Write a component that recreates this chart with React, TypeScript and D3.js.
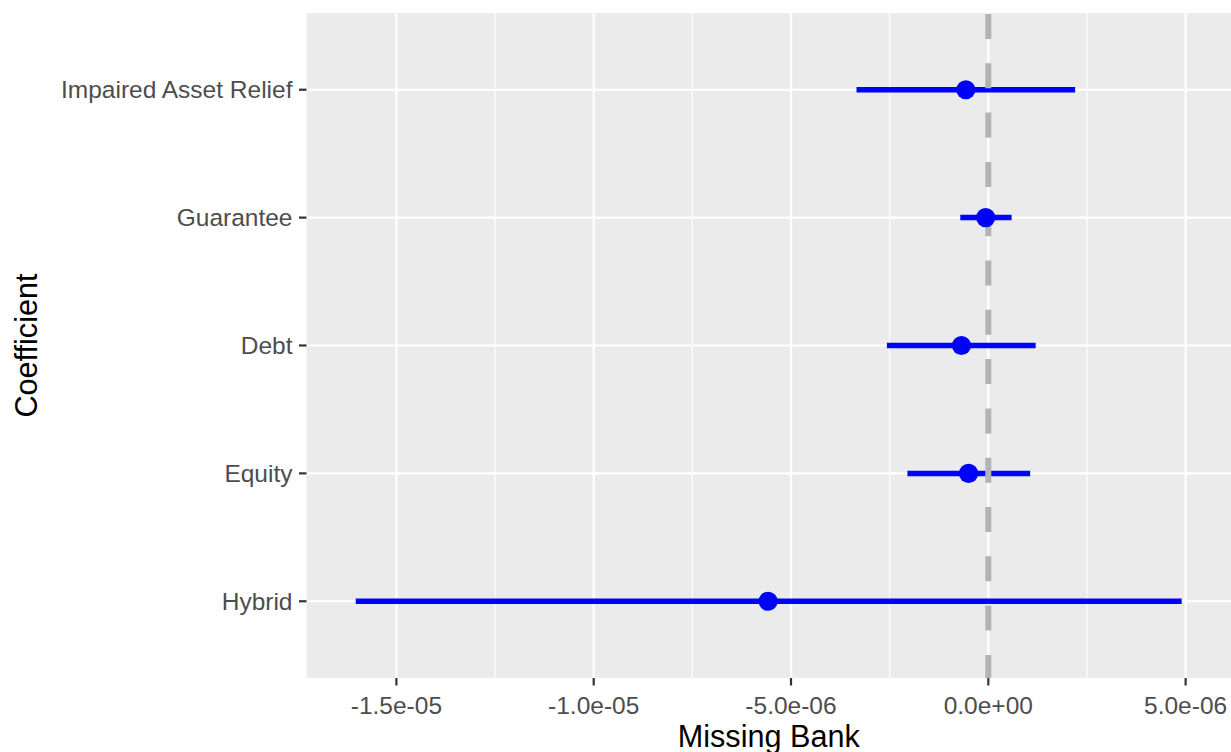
import React from "react";
import * as d3 from "d3";

const categories = ["Impaired Asset Relief", "Guarantee", "Debt", "Equity", "Hybrid"];
const estimates = [-5.7e-7, -6.6e-8, -6.8e-7, -5.0e-7, -5.58e-6];
const lowers = [-3.34e-6, -7.1e-7, -2.57e-6, -2.05e-6, -1.603e-5];
const uppers = [2.2e-6, 5.9e-7, 1.2e-6, 1.06e-6, 4.9e-6];
const majorTicks = [-1.5e-5, -1.0e-5, -5e-6, 0, 5e-6];
const tickLabels = ["-1.5e-05", "-1.0e-05", "-5.0e-06", "0.0e+00", "5.0e-06"];
const minorTicks = [-1.25e-5, -7.5e-6, -2.5e-6, 2.5e-6];
const xDomain = [-1.7278e-5, 6.15e-6];

const W = 1231;
const H = 752;
const panel = { left: 306.5, right: 1231, top: 13, bottom: 678 };
const font = "'Liberation Sans', Arial, Helvetica, sans-serif";

export default function App() {
  const x = d3.scaleLinear().domain(xDomain).range([panel.left, panel.right]);
  const y = d3
    .scalePoint<string>()
    .domain(categories)
    .range([panel.top, panel.bottom])
    .padding(0.6);

  return (
    <svg
      width={W}
      height={H}
      style={{ position: "absolute", left: 0, top: 0, display: "block" }}
      fontFamily={font}
    >
      <rect x={0} y={0} width={W} height={H} fill="#ffffff" />
      <rect
        x={panel.left}
        y={panel.top}
        width={panel.right - panel.left}
        height={panel.bottom - panel.top}
        fill="#EBEBEB"
      />
      {minorTicks.map((t) => (
        <line
          key={"mi" + t}
          x1={x(t)}
          x2={x(t)}
          y1={panel.top}
          y2={panel.bottom}
          stroke="#ffffff"
          strokeWidth={1.1}
        />
      ))}
      {majorTicks.map((t) => (
        <line
          key={"ma" + t}
          x1={x(t)}
          x2={x(t)}
          y1={panel.top}
          y2={panel.bottom}
          stroke="#ffffff"
          strokeWidth={2.2}
        />
      ))}
      {categories.map((c) => (
        <line
          key={"hg" + c}
          x1={panel.left}
          x2={panel.right}
          y1={y(c)!}
          y2={y(c)!}
          stroke="#ffffff"
          strokeWidth={2.2}
        />
      ))}
      {categories.map((c, i) => (
        <line
          key={"eb" + c}
          x1={x(lowers[i])}
          x2={x(uppers[i])}
          y1={y(c)!}
          y2={y(c)!}
          stroke="#0000FF"
          strokeWidth={5.5}
        />
      ))}
      <line
        x1={x(0)}
        x2={x(0)}
        y1={panel.top + 1}
        y2={panel.bottom}
        stroke="#B3B3B3"
        strokeWidth={6}
        strokeDasharray="25 24.3"
      />
      {categories.map((c, i) => (
        <circle key={"pt" + c} cx={x(estimates[i])} cy={y(c)!} r={9.6} fill="#0000FF" />
      ))}
      {/* x axis */}
      {majorTicks.map((t, i) => (
        <g key={"xt" + t}>
          <line
            x1={x(t)}
            x2={x(t)}
            y1={panel.bottom}
            y2={panel.bottom + 7.5}
            stroke="#333333"
            strokeWidth={2.2}
          />
          <text
            x={x(t)}
            y={714}
            textAnchor="middle"
            fontSize={24.5}
            fill="#4D4D4D"
          >
            {tickLabels[i]}
          </text>
        </g>
      ))}
      {/* y axis */}
      {categories.map((c) => (
        <g key={"yt" + c}>
          <line
            x1={panel.left - 7.5}
            x2={panel.left}
            y1={y(c)!}
            y2={y(c)!}
            stroke="#333333"
            strokeWidth={2.2}
          />
          <text
            x={292.5}
            y={y(c)!}
            dy="0.35em"
            textAnchor="end"
            fontSize={24.5}
            fill="#4D4D4D"
          >
            {c}
          </text>
        </g>
      ))}
      <text
        x={(panel.left + panel.right) / 2}
        y={747}
        textAnchor="middle"
        fontSize={30.6}
        fill="#000000"
      >
        Missing Bank
      </text>
      <text
        transform={`translate(36.5, ${(panel.top + panel.bottom) / 2}) rotate(-90)`}
        textAnchor="middle"
        fontSize={30.6}
        fill="#000000"
      >
        Coefficient
      </text>
    </svg>
  );
}
